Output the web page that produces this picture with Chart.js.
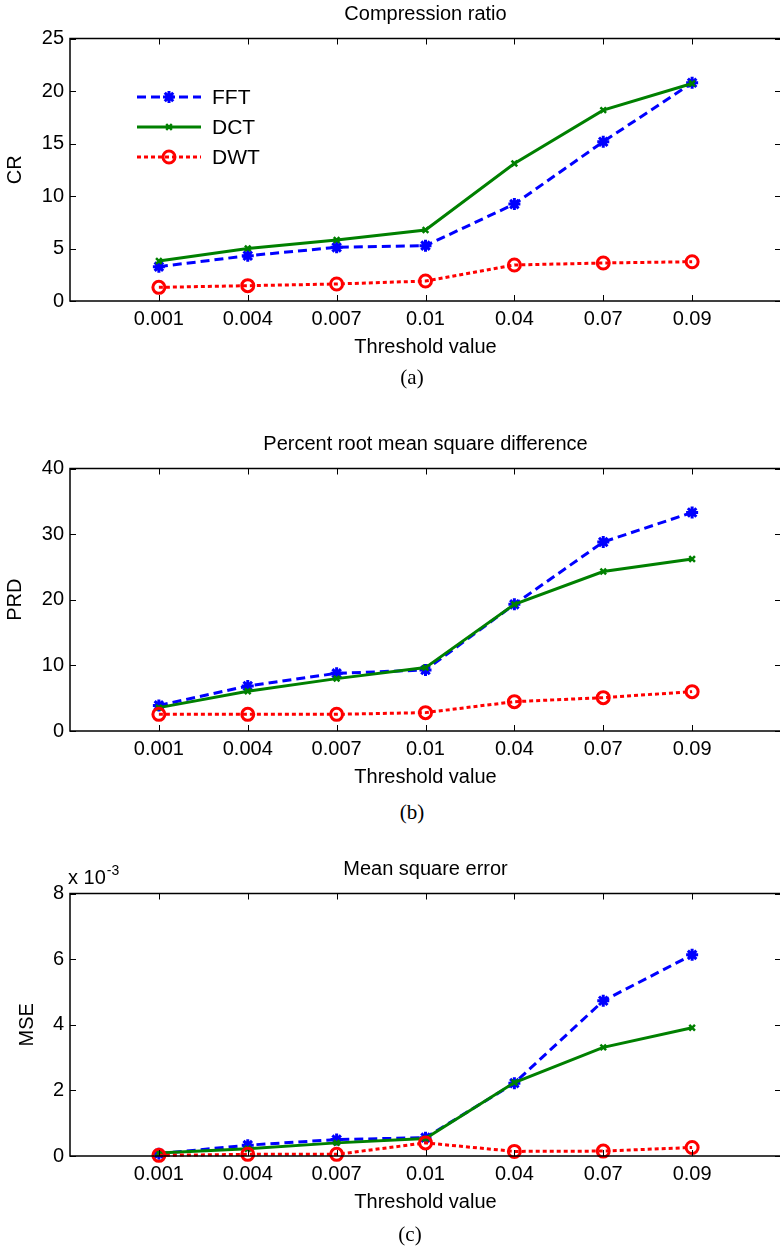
<!DOCTYPE html>
<html>
<head>
<meta charset="utf-8">
<script src="https://cdn.jsdelivr.net/npm/chart.js@4.4.1/dist/chart.umd.min.js"></script>
<style>
  html, body { margin: 0; padding: 0; background: #fff; }
  body { width: 780px; height: 1250px; position: relative; overflow: hidden; }
  canvas { position: absolute; left: 0; }
  .cap { position: absolute; width: 60px; margin-left: -30px; text-align: center;
         font-family: "Liberation Serif", serif; font-size: 21px; color: #000; }
</style>
</head>
<body>
<canvas id="g_cr" width="790" height="370" style="top:0px"></canvas>
<div class="cap" style="left:412px; top:365px">(a)</div>
<canvas id="g_prd" width="790" height="370" style="top:430px"></canvas>
<div class="cap" style="left:412px; top:800px">(b)</div>
<canvas id="g_mse" width="790" height="370" style="top:855px"></canvas>
<div class="cap" style="left:410px; top:1222px">(c)</div>
<script>
const thresholds = ["0.001", "0.004", "0.007", "0.01", "0.04", "0.07", "0.09"]

const cr_fft = [3.27, 4.31, 5.11, 5.27, 9.23, 15.17, 20.78]
const cr_dct = [3.81, 5.01, 5.81, 6.76, 13.1, 18.18, 20.72]
const cr_dwt = [1.30, 1.46, 1.62, 1.90, 3.43, 3.62, 3.74]

const prd_fft = [3.9, 6.86, 8.79, 9.3, 19.3, 28.8, 33.3]
const prd_dct = [3.56, 6.05, 7.98, 9.66, 19.3, 24.3, 26.2]
const prd_dwt = [2.54, 2.54, 2.54, 2.8, 4.47, 5.08, 6.0]

// MSE values (real units)
const mse_fft = [0.00007, 0.00033, 0.0005, 0.00056, 0.00222, 0.00473, 0.00613]
const mse_dct = [0.00009, 0.00022, 0.0004, 0.00053, 0.00224, 0.00331, 0.00391]
const mse_dwt = [0.00002, 0.00005, 0.00005, 0.0004, 0.00014, 0.00015, 0.00026]

const FONT = "'Liberation Sans', Arial, sans-serif"
const FS = 20

// turn a list of values into points at positions 1..7
const pts = (arr) => arr.map((v, i) => ({ x: i + 1, y: v }))

function makeSets(fft, dct, dwt) {
    return [
        {
            label: "FFT", data: pts(fft), order: 3,
            borderColor: "#0000ff", backgroundColor: "#0000ff",
            borderWidth: 3, borderDash: [9, 5],
            pointStyle: "star", pointRadius: 6, pointBorderWidth: 3,
            pointBorderColor: "#0000ff", clip: false
        },
        {
            label: "DCT", data: pts(dct), order: 2,
            borderColor: "#008000", backgroundColor: "#008000",
            borderWidth: 3,
            pointStyle: "crossRot", pointRadius: 4, pointBorderWidth: 2.5,
            pointBorderColor: "#008000", clip: false
        },
        {
            label: "DWT", data: pts(dwt), order: 1,
            borderColor: "#ff0000", backgroundColor: "rgba(0,0,0,0)",
            borderWidth: 3, borderDash: [4, 3],
            pointStyle: "circle", pointRadius: 6, pointBorderWidth: 3,
            pointBorderColor: "#ff0000", pointBackgroundColor: "rgba(0,0,0,0)", clip: false
        }
    ]
}

// matlab style box with inward ticks
const boxTicks = {
    id: "boxTicks",
    afterDraw(chart) {
        const { ctx, chartArea: a, scales } = chart
        ctx.save()
        ctx.strokeStyle = "#000"
        ctx.lineWidth = 1
        ctx.beginPath()
        scales.x.ticks.forEach(t => {
            const px = Math.round(scales.x.getPixelForValue(t.value)) + 0.5
            ctx.moveTo(px, a.top); ctx.lineTo(px, a.top + 6)
            ctx.moveTo(px, a.bottom); ctx.lineTo(px, a.bottom - 6)
        })
        scales.y.ticks.forEach(t => {
            const py = Math.round(scales.y.getPixelForValue(t.value)) + 0.5
            ctx.moveTo(a.left, py); ctx.lineTo(a.left + 6, py)
            ctx.moveTo(a.right, py); ctx.lineTo(a.right - 6, py)
        })
        ctx.stroke()
        ctx.lineWidth = 1.5
        ctx.strokeRect(a.left, a.top, a.right - a.left, a.bottom - a.top)
        ctx.restore()
    }
}

// legend drawn inside the plot, top-left
const innerLegend = {
    id: "innerLegend",
    afterDraw(chart, args, opts) {
        if (!opts.show) return
        const ctx = chart.ctx
        chart.data.datasets.forEach((ds, i) => {
            const y = opts.y + i * opts.gap
            ctx.save()
            ctx.strokeStyle = ds.borderColor
            ctx.lineWidth = ds.borderWidth
            ctx.setLineDash(ds.borderDash || [])
            ctx.beginPath()
            ctx.moveTo(opts.x, y)
            ctx.lineTo(opts.x + 64, y)
            ctx.stroke()
            ctx.setLineDash([])
            ctx.strokeStyle = ds.pointBorderColor
            ctx.fillStyle = "rgba(0,0,0,0)"
            ctx.lineWidth = ds.pointBorderWidth
            Chart.helpers.drawPoint(ctx, {
                pointStyle: ds.pointStyle, rotation: 0,
                radius: ds.pointRadius, borderWidth: ds.pointBorderWidth
            }, opts.x + 32, y)
            ctx.fillStyle = "#000"
            ctx.font = "21px " + FONT
            ctx.textBaseline = "middle"
            ctx.textAlign = "left"
            ctx.fillText(ds.label, opts.x + 75, y + 1)
            ctx.restore()
        })
    }
}

// "x 10^-3" multiplier above the y axis
const expLabel = {
    id: "expLabel",
    afterDraw(chart, args, opts) {
        if (!opts.show) return
        const ctx = chart.ctx
        ctx.save()
        ctx.fillStyle = "#000"
        ctx.textBaseline = "alphabetic"
        ctx.textAlign = "left"
        ctx.font = FS + "px " + FONT
        ctx.fillText("x 10", opts.x, opts.y)
        const w = ctx.measureText("x 10").width
        ctx.font = "14px " + FONT
        ctx.fillText("-3", opts.x + w + 1, opts.y - 9)
        ctx.restore()
    }
}

function makeChart(el, title, yTitle, yMax, yStep, sets, extra) {
    return new Chart(el, {
        type: "line",
        data: { datasets: sets },
        options: {
            responsive: false,
            animation: false,
            layout: { padding: { left: 0, right: 7, top: 0, bottom: 0 } },
            plugins: {
                legend: { display: false },
                tooltip: { enabled: false },
                title: {
                    display: true, text: title, fullSize: false,
                    color: "#000",
                    font: { family: FONT, size: FS, weight: "normal" },
                    padding: { top: 2, bottom: 12.5 }
                },
                innerLegend: extra.legend || { show: false },
                expLabel: extra.exp || { show: false }
            },
            scales: {
                x: {
                    type: "linear", min: 0, max: 8,
                    grid: { display: false, drawTicks: false },
                    border: { display: false },
                    afterBuildTicks: (s) => { s.ticks = thresholds.map((c, i) => ({ value: i + 1 })) },
                    afterFit: (s) => { s.height = 69 },
                    ticks: {
                        autoSkip: false, maxRotation: 0, padding: 6, color: "#000",
                        font: { family: FONT, size: FS },
                        callback: (v) => thresholds[v - 1]
                    },
                    title: {
                        display: true, text: "Threshold value", color: "#000",
                        font: { family: FONT, size: FS },
                        padding: { top: 0, bottom: 11 }
                    }
                },
                y: {
                    min: 0, max: yMax,
                    grid: { display: false, drawTicks: false },
                    border: { display: false },
                    afterFit: (s) => { s.width = 70 },
                    ticks: {
                        stepSize: yStep, padding: 6, color: "#000",
                        font: { family: FONT, size: FS },
                        callback: extra.yFmt || ((v) => v)
                    },
                    title: {
                        display: true, text: yTitle, color: "#000",
                        font: { family: FONT, size: FS },
                        padding: { top: extra.yLabelPad, bottom: 0 }
                    }
                }
            }
        },
        plugins: [boxTicks, innerLegend, expLabel]
    })
}

makeChart(document.getElementById("g_cr"), "Compression ratio", "CR", 25, 5,
    makeSets(cr_fft, cr_dct, cr_dwt),
    { yLabelPad: 3, legend: { show: true, x: 137, y: 97, gap: 30 } })

makeChart(document.getElementById("g_prd"), "Percent root mean square difference", "PRD", 40, 10,
    makeSets(prd_fft, prd_dct, prd_dwt),
    { yLabelPad: 3 })

makeChart(document.getElementById("g_mse"), "Mean square error", "MSE", 0.008, 0.002,
    makeSets(mse_fft, mse_dct, mse_dwt),
    {
        yLabelPad: 15,
        yFmt: (v) => Math.round(v * 1000),
        exp: { show: true, x: 68, y: 29 }
    })
</script>
</body>
</html>
